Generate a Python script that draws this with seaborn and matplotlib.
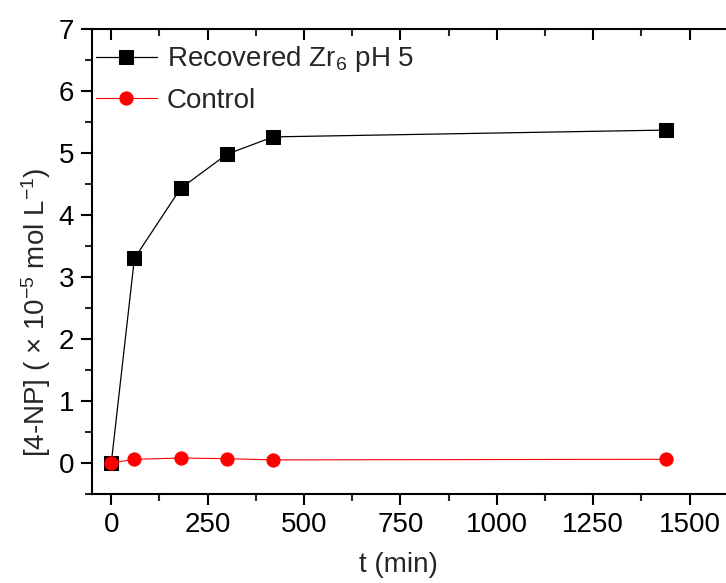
import matplotlib
matplotlib.use("Agg")
import matplotlib.pyplot as plt
import seaborn as sns
import pandas as pd
from matplotlib.ticker import MultipleLocator

t_min = [0, 60, 180, 300, 420, 1440]
recovered = [0.0, 3.30, 4.43, 4.98, 5.26, 5.37]
control = [0.0, 0.06, 0.08, 0.07, 0.05, 0.06]
labels = ["Recovered Zr$_6$ pH 5", "Control"]

sns.set_style("ticks")
plt.rcParams["font.family"] = ["Liberation Sans", "DejaVu Sans"]
plt.rcParams["mathtext.fontset"] = "custom"
plt.rcParams["mathtext.rm"] = "Liberation Sans"
plt.rcParams["mathtext.it"] = "Liberation Sans"

fig = plt.figure(figsize=(7.26, 5.83), dpi=100)
ax = fig.add_axes([92/726, 89/583, 1.0 - 92/726 + 0.003, (494-29)/583])

df1 = pd.DataFrame({"t": t_min, "c": recovered})
df2 = pd.DataFrame({"t": t_min, "c": control})
sns.lineplot(data=df1, x="t", y="c", ax=ax, color="black", lw=0.9, marker="s",
             markersize=9.5, markeredgecolor="black", label=labels[0])
sns.lineplot(data=df2, x="t", y="c", ax=ax, color="red", lw=0.8, marker="o",
             markersize=9.5, markeredgecolor="red", label=labels[1])

ax.set_xlim(-50, 1600)
ax.set_ylim(-0.5, 7)
ax.xaxis.set_major_locator(MultipleLocator(250))
ax.xaxis.set_minor_locator(MultipleLocator(125))
ax.yaxis.set_major_locator(MultipleLocator(1))
ax.yaxis.set_minor_locator(MultipleLocator(0.5))

for s in ["left", "bottom", "top"]:
    ax.spines[s].set_linewidth(1.5)
    ax.spines[s].set_color("black")
ax.spines["right"].set_visible(False)

ax.tick_params(axis="both", which="major", direction="out", length=8, width=1.5,
               labelsize=20, colors="black", pad=5)
ax.tick_params(axis="both", which="minor", direction="out", length=5, width=1.5)
ax.tick_params(axis="x", which="both", top=True)
for tl in ax.xaxis.get_major_ticks() + ax.xaxis.get_minor_ticks():
    tl.tick2line.set_marker(matplotlib.lines.TICKDOWN)

ax.set_xlabel("t (min)", fontsize=20)
ax.xaxis.set_label_coords(0.481, -0.125)
ax.set_ylabel("[4-NP] ( \u00d7 10$^{-5}$ mol L$^{-1}$)", fontsize=20, labelpad=4)
ax.yaxis.label.set_y(0.39)

leg = ax.legend(loc="upper left", frameon=False, fontsize=20, handlelength=2.2,
                handletextpad=0.35, borderaxespad=0.15, labelspacing=0.5,
                bbox_to_anchor=(-0.018, 1.0))

fig.savefig("out.png", dpi=100)
